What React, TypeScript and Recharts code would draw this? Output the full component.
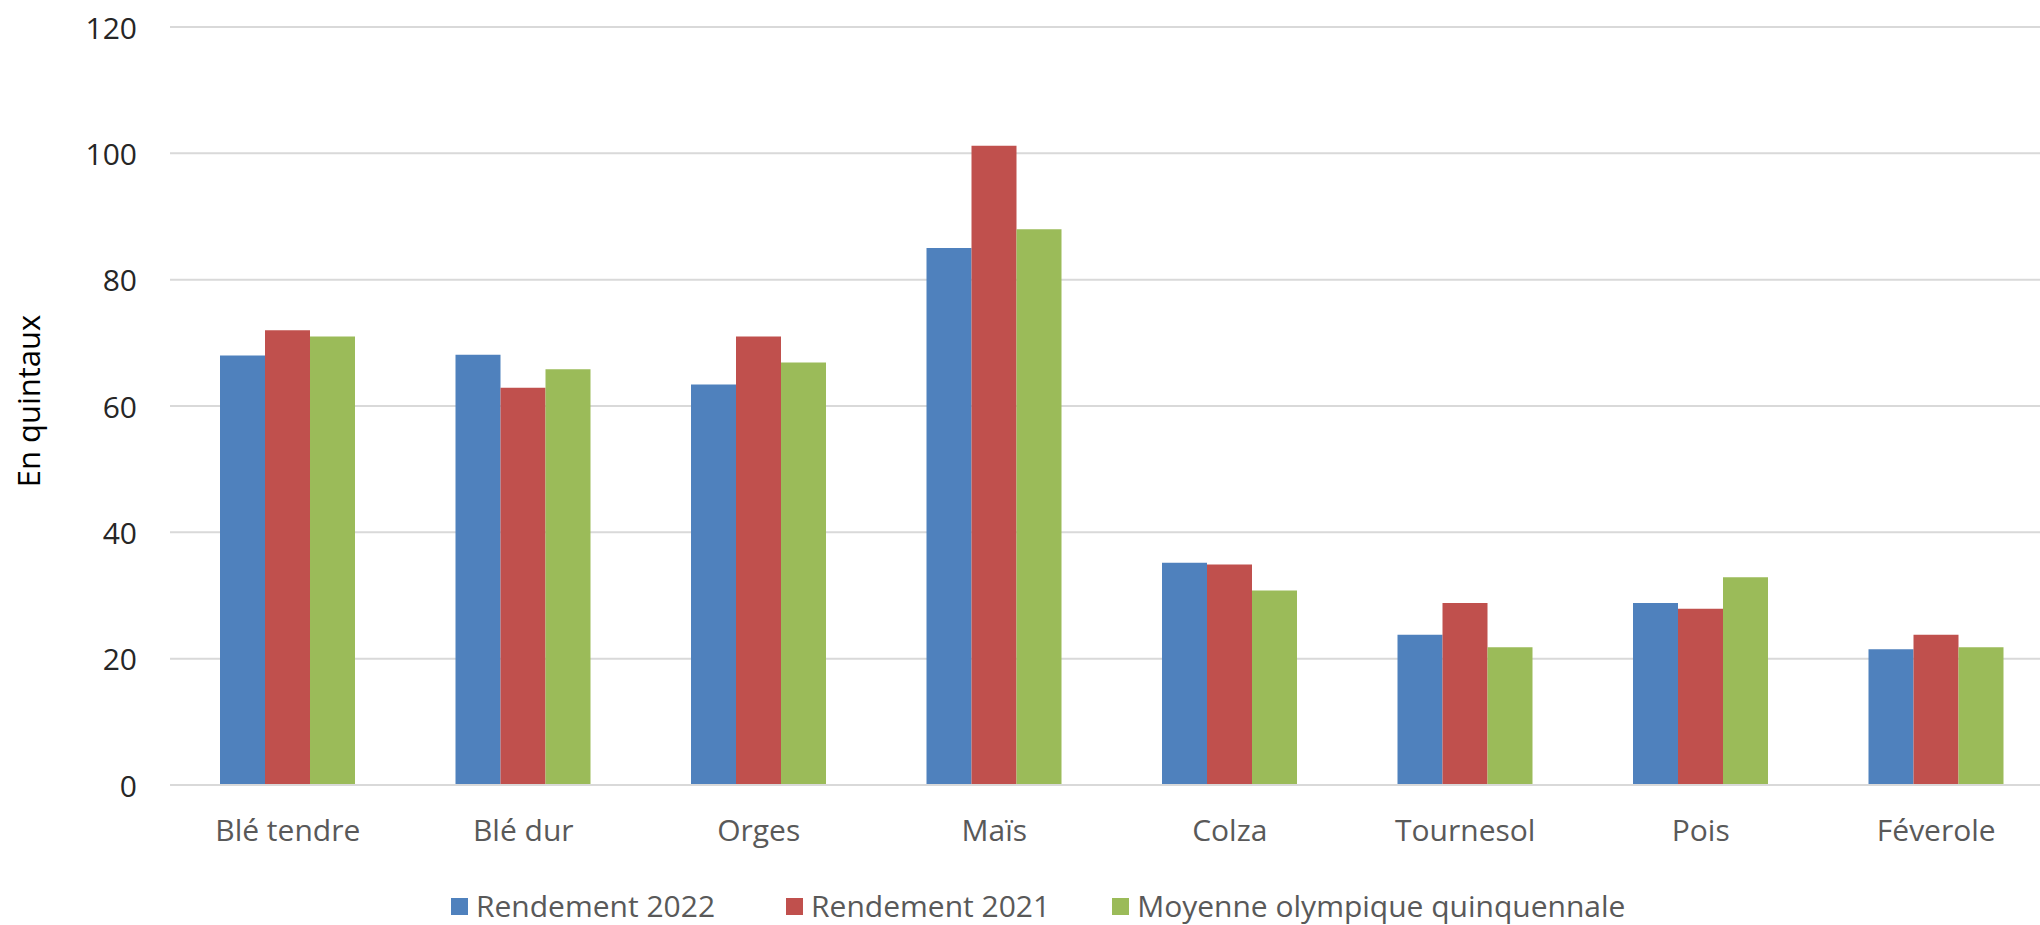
import React from 'react';
import { BarChart, Bar, XAxis, YAxis, CartesianGrid, Label } from 'recharts';

const categories = ['Blé tendre', 'Blé dur', 'Orges', 'Maïs', 'Colza', 'Tournesol', 'Pois', 'Féverole'];
const rendement2022 = [68, 68.1, 63.4, 85, 35.2, 23.8, 28.8, 21.5];
const rendement2021 = [72, 62.9, 71, 101.2, 34.9, 28.8, 27.9, 23.8];
const moyenneOlympique = [71, 65.8, 66.9, 88, 30.8, 21.8, 32.9, 21.8];
const yTicks = [0, 20, 40, 60, 80, 100, 120];

const seriesNames = ['Rendement 2022', 'Rendement 2021', 'Moyenne olympique quinquennale'];
const seriesKeys = ['r2022', 'r2021', 'moy'];
const seriesColors = ['#4f81bd', '#c0504d', '#9bbb59'];
const legendGaps = [71, 62, 0];

const data = categories.map((c, i) => ({
  name: c,
  r2022: rendement2022[i],
  r2021: rendement2021[i],
  moy: moyenneOlympique[i],
}));

const FONT = '"Open Sans", sans-serif';

const XTick = (props: any) => {
  const { x, y, payload } = props;
  return (
    <text x={x} y={y} dy={48} textAnchor="middle" fontFamily={FONT} fontSize={30} fill="#595959">
      {payload.value}
    </text>
  );
};

const YTick = (props: any) => {
  const { x, y, payload } = props;
  return (
    <text x={x} y={y} dx={-25} textAnchor="end" dominantBaseline="central" fontFamily={FONT} fontSize={30} fill="#262626">
      {payload.value}
    </text>
  );
};

export default function App() {
  return (
    <div style={{ position: 'absolute', left: 0, top: 0, width: 2040, height: 925, overflow: 'hidden', background: '#fff' }}>
      <BarChart
        width={2060}
        height={925}
        data={data}
        margin={{ top: 27, right: 6, left: 0, bottom: 0 }}
        barGap={0}
        barCategoryGap={50}
      >
        <CartesianGrid vertical={false} stroke="#d9d9d9" strokeWidth={2} />
        <XAxis
          dataKey="name"
          height={140}
          tickLine={false}
          axisLine={{ stroke: '#d9d9d9', strokeWidth: 2 }}
          tick={<XTick />}
          interval={0}
        />
        <YAxis
          width={170}
          domain={[0, 120]}
          ticks={yTicks}
          axisLine={false}
          tickLine={false}
          tick={<YTick />}
          interval={0}
        >
          <Label
            content={() => (
              <text
                x={28}
                y={401}
                transform="rotate(-90 28 401)"
                textAnchor="middle"
                dominantBaseline="central"
                fontFamily={FONT}
                fontSize={31}
                fill="#000"
              >
                En quintaux
              </text>
            )}
          />
        </YAxis>
        {seriesKeys.map((k, i) => (
          <Bar key={k} dataKey={k} name={seriesNames[i]} fill={seriesColors[i]} isAnimationActive={false} />
        ))}
      </BarChart>
      <div
        style={{
          position: 'absolute',
          left: 451,
          top: 886,
          display: 'flex',
          alignItems: 'center',
          fontFamily: FONT,
          fontSize: 30,
          color: '#595959',
          lineHeight: '40px',
          whiteSpace: 'nowrap',
        }}
      >
        {seriesNames.map((n, i) => (
          <div key={n} style={{ display: 'flex', alignItems: 'center', marginRight: legendGaps[i] }}>
            <div style={{ width: 17, height: 17, background: seriesColors[i], marginRight: 8 }} />
            <span>{n}</span>
          </div>
        ))}
      </div>
    </div>
  );
}
